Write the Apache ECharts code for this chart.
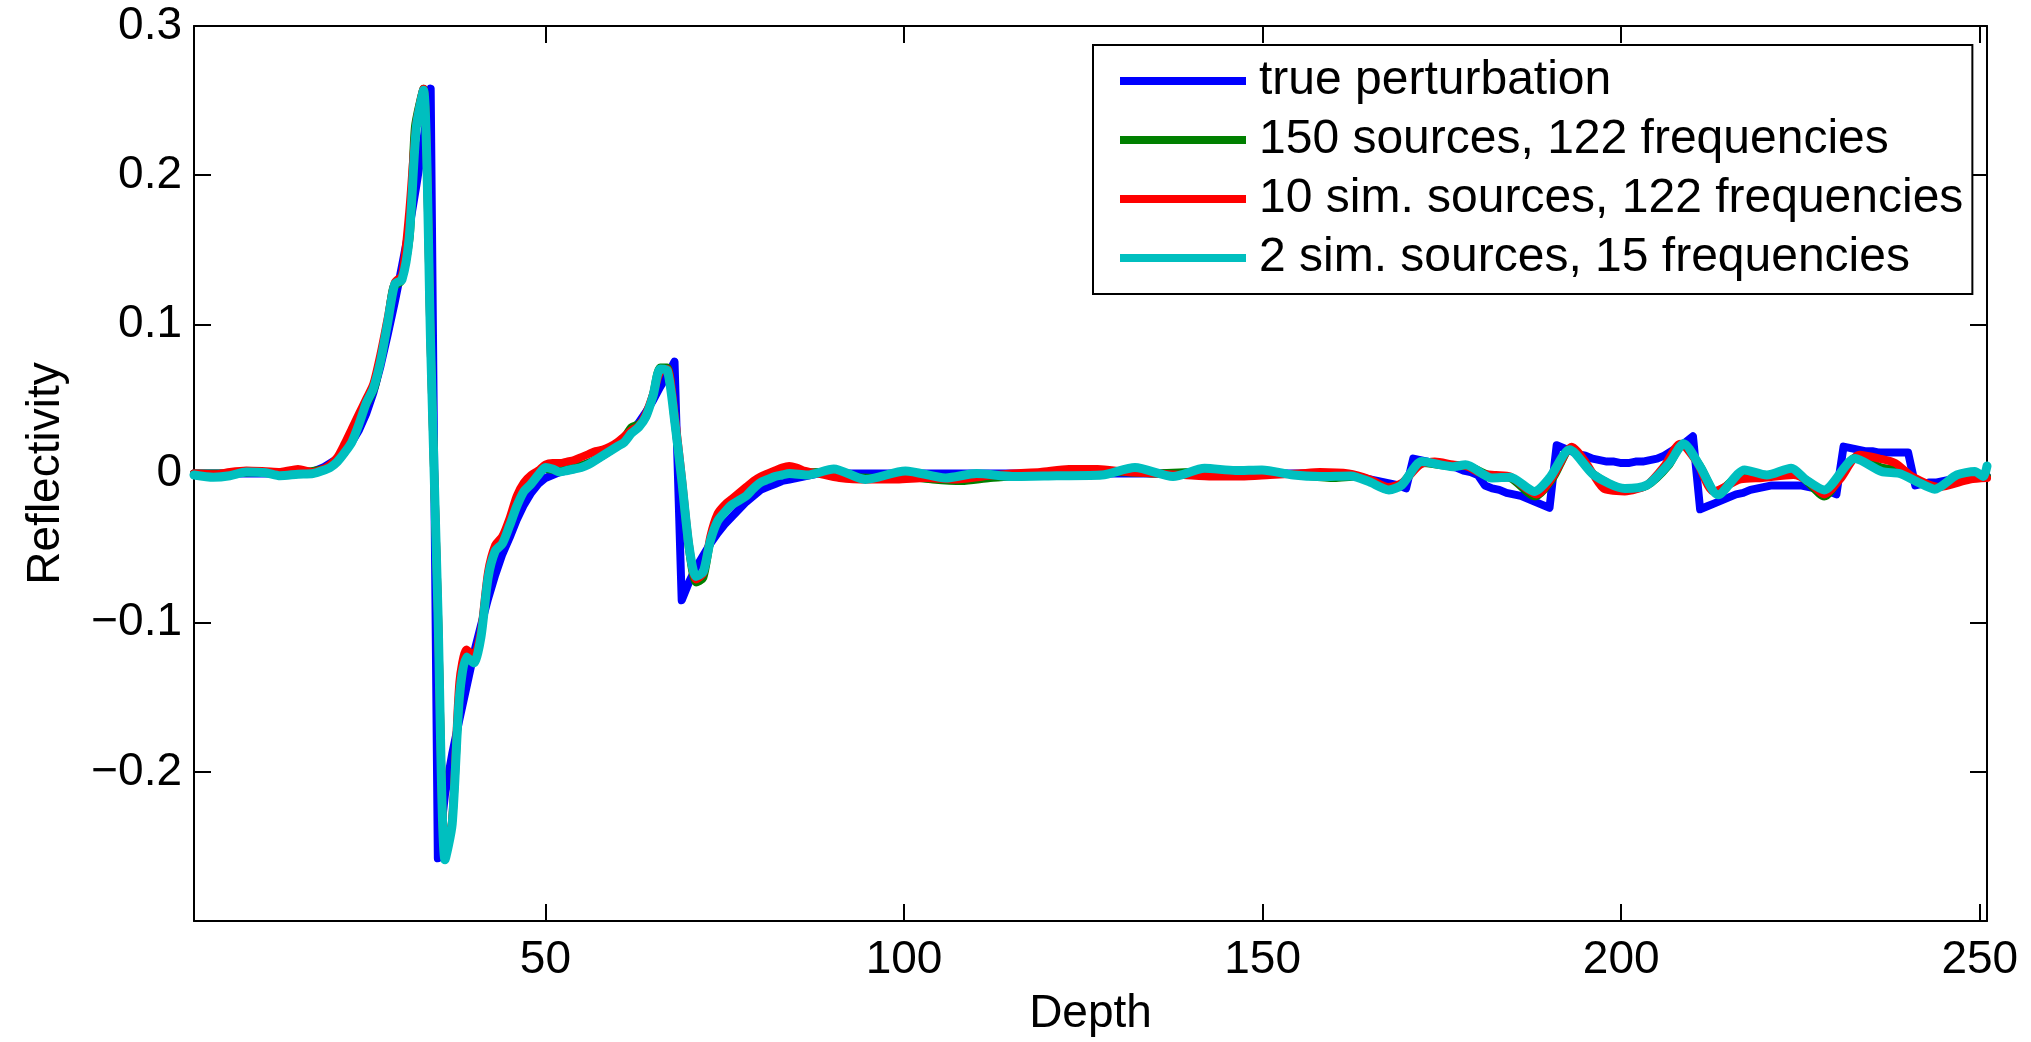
<!DOCTYPE html>
<html>
<head>
<meta charset="utf-8">
<style>
html,body{margin:0;padding:0;background:#fff;}
#chart{width:2031px;height:1042px;}
</style>
<script src="https://cdn.jsdelivr.net/npm/echarts@6/dist/echarts.min.js"></script>
</head>
<body>
<div id="chart"></div>
<script>
// ---- data (depth, reflectivity) ----
const seriesNames = ["true perturbation", "150 sources, 122 frequencies", "10 sim. sources, 122 frequencies", "2 sim. sources, 15 frequencies"];
const xTicks = [50, 100, 150, 200, 250];

const truePts = [[1,0],[17,0],[18,0.002],[19,0.004],[20,0.007],[21,0.010],[22,0.015],[23,0.021],[24,0.029],[25,0.040],[26,0.054],[27,0.072],[28,0.093],[29,0.115],[30,0.139],[31,0.164],[32,0.193],[33,0.224],[34,0.258],[35,-0.258],[36,-0.215],[37,-0.188],[38,-0.165],[39,-0.143],[40,-0.121],[41,-0.102],[42,-0.084],[43,-0.068],[44,-0.054],[45,-0.043],[46,-0.031],[47,-0.021],[48,-0.013],[49,-0.007],[50,-0.003],[51,-0.001],[52,0.001],[53,0.002],[54,0.003],[55,0.005],[56,0.007],[57,0.009],[58,0.012],[59,0.015],[60,0.019],[61,0.023],[62,0.028],[63,0.034],[64,0.041],[65,0.049],[66,0.058],[67,0.066],[68,0.075],[69,-0.085],[70,-0.073],[71,-0.063],[72,-0.055],[73,-0.047],[74,-0.040],[75,-0.034],[76,-0.029],[77,-0.024],[78,-0.019],[79,-0.015],[80,-0.011],[81,-0.009],[82,-0.007],[83,-0.005],[84,-0.004],[85,-0.003],[86,-0.002],[87,-0.001],[88,0],[160,0],[161,-0.0005],[162,-0.001],[163,-0.002],[164,-0.003],[165,-0.004],[166,-0.005],[167,-0.006],[168,-0.007],[169,-0.008],[170,-0.010],[171,0.010],[172,0.009],[173,0.008],[174,0.007],[175,0.006],[176,0.005],[177,0.004],[178,0.002],[179,0.001],[180,-0.001],[181,-0.008],[182,-0.010],[183,-0.011],[184,-0.013],[185,-0.014],[186,-0.015],[187,-0.017],[188,-0.019],[189,-0.021],[190,-0.023],[191,0.019],[192,0.017],[193,0.015],[194,0.013],[195,0.012],[196,0.010],[197,0.009],[198,0.008],[199,0.008],[200,0.007],[201,0.007],[202,0.008],[203,0.008],[204,0.009],[205,0.010],[206,0.012],[207,0.015],[208,0.018],[209,0.021],[210,0.025],[211,-0.024],[212,-0.022],[213,-0.020],[214,-0.018],[215,-0.016],[216,-0.014],[217,-0.013],[218,-0.011],[219,-0.010],[220,-0.009],[221,-0.008],[222,-0.008],[223,-0.008],[224,-0.008],[225,-0.008],[226,-0.009],[227,-0.010],[228,-0.011],[229,-0.012],[230,-0.014],[231,0.018],[232,0.017],[233,0.016],[234,0.015],[235,0.015],[236,0.014],[237,0.014],[238,0.014],[239,0.014],[240,0.014],[241,-0.008],[242,-0.007],[243,-0.006],[244,-0.006],[245,-0.005],[246,-0.004],[247,-0.004],[248,-0.003],[249,-0.003],[250,-0.002],[251,-0.002]];

const src150Pts = [[1,0],[5,0],[10,0.001],[15,0.001],[18,0.002],[20,0.005],[22,0.014],[23.2,0.026],[25,0.046],[26.2,0.058],[27.4,0.085],[28.1,0.104],[28.8,0.125],[29.9,0.129],[31.1,0.16],[31.8,0.232],[33,0.258],[34,0.085],[35,-0.09],[36,-0.258],[37,-0.233],[38,-0.15],[39,-0.12],[40,-0.125],[41,-0.108],[42,-0.07],[43,-0.052],[44,-0.046],[45,-0.034],[46,-0.02],[47,-0.010],[48,-0.005],[49,0.000],[50,0.003],[52,0.002],[54,0.004],[56,0.007],[58,0.012],[60,0.019],[61,0.024],[62,0.031],[63,0.033],[64,0.038],[65,0.053],[66,0.071],[67,0.071],[68,0.036],[69,-0.005],[70,-0.050],[71,-0.073],[72,-0.070],[73,-0.045],[74,-0.030],[75,-0.024],[76,-0.019],[77,-0.015],[78,-0.011],[79,-0.007],[80,-0.004],[81,-0.002],[82,-0.001],[84,0.000],[88,0.001],[92,-0.002],[96,-0.003],[100,-0.002],[104,-0.004],[108,-0.005],[112,-0.003],[116,-0.002],[120,-0.001],[125,0],[130,0.001],[135,0.000],[140,0.001],[145,0.000],[150,0.001],[155,-0.001],[160,-0.003],[163,-0.002],[165,-0.005],[167.6,-0.011],[169.4,-0.007],[172.2,0.007],[176.5,0.005],[178.3,0.005],[182,-0.002],[184.5,-0.003],[188,-0.0155],[190.5,-0.003],[193,0.017],[196,0.000],[200.5,-0.0105],[203.6,-0.008],[206.7,0.006],[208.5,0.020],[211,0.005],[213.3,-0.013],[217,0.000],[220.3,-0.002],[223.7,0.002],[225.8,-0.005],[228.3,-0.0155],[232.8,0.011],[236.3,0.004],[238.8,0.002],[241,-0.004],[243.7,-0.010],[246.8,-0.003],[249.3,-0.001],[251,-0.002]];

const sim10Pts = [[1,0],[4,-0.0005],[6,0.001],[8.3,0.002],[11,0.0015],[13,0.001],[15.5,0.003],[17.6,0.001],[19,0.003],[20,0.006],[21,0.011],[22,0.020],[23,0.030],[24,0.040],[25,0.050],[26,0.060],[27,0.080],[28,0.104],[29,0.128],[30,0.133],[31,0.175],[32,0.235],[33,0.258],[34,0.085],[35,-0.09],[36,-0.257],[37,-0.232],[38,-0.140],[39,-0.118],[40,-0.122],[41,-0.106],[42,-0.066],[43,-0.048],[44,-0.042],[45,-0.030],[46,-0.015],[47,-0.006],[48,-0.001],[49,0.002],[50,0.006],[51,0.007],[52,0.007],[53,0.008],[54,0.009],[55,0.011],[56,0.013],[57,0.015],[58,0.016],[59,0.018],[60,0.021],[61,0.025],[62,0.029],[63,0.032],[64,0.040],[65,0.053],[66,0.068],[67,0.070],[68,0.040],[69,-0.002],[70,-0.047],[71,-0.071],[72,-0.067],[73,-0.042],[74,-0.027],[75,-0.021],[76,-0.017],[77,-0.013],[78,-0.009],[79,-0.005],[80,-0.002],[81,0.000],[82,0.002],[83,0.004],[84,0.005],[85,0.004],[86,0.002],[88,0.000],[91,-0.003],[95,-0.004],[99,-0.004],[103,-0.003],[107,-0.004],[111,-0.002],[115,0.000],[119,0.001],[123,0.003],[127,0.003],[131,0.001],[135,0.000],[139,-0.001],[143,-0.002],[147,-0.002],[151,-0.001],[155,0.000],[158,0.001],[162,0.000],[165,-0.004],[167.5,-0.009],[169.5,-0.006],[172,0.006],[174,0.008],[176.5,0.006],[178.3,0.005],[180.5,0.000],[182.5,-0.001],[184.5,-0.002],[188.2,-0.014],[190.5,-0.002],[193.1,0.018],[195,0.008],[197.5,-0.010],[200.5,-0.012],[203.5,-0.008],[206,0.005],[208.2,0.020],[210.5,0.008],[212.9,-0.012],[216.6,-0.004],[219.7,-0.003],[224,-0.001],[226,-0.005],[228.3,-0.014],[230.5,-0.004],[233.2,0.0125],[236,0.010],[238.2,0.007],[240.6,-0.002],[244.3,-0.009],[248.6,-0.004],[251,-0.003]];

const sim2Pts = [[1,-0.001],[3.7,-0.0025],[6,-0.0015],[8.3,0.001],[11,0.0005],[13,-0.0015],[15.5,-0.0005],[17.6,0],[19,0.002],[20,0.004],[21,0.008],[22,0.014],[23,0.021],[24,0.033],[25,0.047],[26,0.057],[27,0.075],[28,0.101],[29,0.127],[30,0.130],[31,0.158],[32,0.232],[33,0.257],[34,0.085],[35,-0.09],[36,-0.259],[37,-0.235],[38,-0.150],[39,-0.123],[40,-0.127],[41,-0.110],[42,-0.070],[43,-0.052],[44,-0.047],[45,-0.035],[46,-0.022],[47,-0.012],[48,-0.007],[49,-0.001],[50,0.004],[51,0.003],[52,0.001],[53,0.002],[54,0.003],[55,0.004],[56,0.006],[57,0.009],[58,0.012],[59,0.015],[60,0.018],[61,0.021],[62,0.027],[63,0.031],[64,0.038],[65,0.052],[66,0.070],[67,0.069],[68,0.036],[69,-0.004],[70,-0.048],[71,-0.069],[72,-0.066],[73,-0.045],[74,-0.032],[75,-0.026],[76,-0.021],[77,-0.018],[78,-0.015],[79,-0.010],[80,-0.006],[81,-0.004],[82,-0.002],[83,-0.001],[84,0],[86.5,-0.001],[90.2,0.003],[94.6,-0.004],[100.2,0.0017],[105.8,-0.003],[110.1,0],[115.1,-0.002],[121.3,-0.0015],[127.6,-0.001],[132.2,0.004],[137.5,-0.002],[141.9,0.0035],[146.2,0.002],[149.9,0.0024],[154.3,-0.001],[158,-0.002],[162.3,-0.0016],[164.8,-0.0054],[167.6,-0.011],[169.4,-0.0077],[172.2,0.008],[176.5,0.0046],[178.3,0.0058],[182,-0.003],[184.5,-0.0025],[187.9,-0.012],[190,-0.003],[192.8,0.016],[196.2,-0.001],[200.5,-0.010],[203.6,-0.0077],[206.7,0.0069],[208.7,0.020],[211,0.0046],[213.5,-0.0143],[217.2,0.0024],[220.3,-0.001],[223.7,0.0035],[225.8,-0.0043],[228.3,-0.011],[232.6,0.010],[236.3,0.0013],[238.8,0],[241.2,-0.0054],[243.7,-0.0105],[246.8,-0.001],[249.3,0.0013],[250.5,-0.002],[251,0.005]];

// ---- chart ----
const FONT = '"Liberation Sans", Arial, Helvetica, sans-serif';
const chart = echarts.init(document.getElementById('chart'), null, {renderer: 'canvas'});

function yFmt(v) {
  const r = Math.round(v * 10) / 10;
  if (Math.abs(r + 0.3) < 1e-9) return '';
  if (r === 0) return '0';
  return (r < 0 ? '\u2212' : '') + Math.abs(r).toFixed(1);
}

const axisLineStyle = {show: true, onZero: false, lineStyle: {color: '#000', width: 2}};
const tickStyle = {show: true, inside: true, length: 17, lineStyle: {color: '#000', width: 2}};

const colors = ['#0000ff', '#008000', '#ff0000', '#00bfbf'];
const widths = [8, 8, 8, 9];
const dataSets = [truePts, src150Pts, sim10Pts, sim2Pts];

chart.setOption({
  animation: false,
  backgroundColor: '#fff',
  grid: {left: 194, top: 26, width: 1793, height: 896, containLabel: false},
  legend: {
    show: true,
    orient: 'vertical',
    left: 1093,
    top: 45,
    padding: [12, 9, 12, 27],
    borderColor: '#000',
    borderWidth: 2,
    backgroundColor: '#fff',
    icon: 'rect',
    itemWidth: 126,
    itemHeight: 8,
    itemGap: 11,
    textStyle: {fontFamily: FONT, fontSize: 48, color: '#000', lineHeight: 48, padding: [0, 0, 0, 8]},
    data: seriesNames
  },
  xAxis: [{
    type: 'value', min: 1, max: 251, position: 'bottom',
    name: 'Depth', nameLocation: 'middle', nameGap: 70,
    nameTextStyle: {fontFamily: FONT, fontSize: 46, color: '#000'},
    axisLine: axisLineStyle,
    axisTick: Object.assign({customValues: xTicks}, tickStyle),
    axisLabel: {customValues: xTicks, fontFamily: FONT, fontSize: 46, color: '#000', margin: 16},
    splitLine: {show: false}
  }, {
    type: 'value', min: 1, max: 251, position: 'top',
    axisLine: axisLineStyle,
    axisTick: Object.assign({customValues: xTicks}, tickStyle),
    axisLabel: {show: false},
    splitLine: {show: false}
  }],
  yAxis: [{
    type: 'value', min: -0.3, max: 0.3, interval: 0.1, position: 'left',
    name: 'Reflectivity', nameLocation: 'middle', nameGap: 125,
    nameTextStyle: {fontFamily: FONT, fontSize: 46, color: '#000'},
    axisLine: axisLineStyle,
    axisTick: tickStyle,
    axisLabel: {formatter: yFmt, fontFamily: FONT, fontSize: 46, color: '#000', margin: 12},
    splitLine: {show: false}
  }, {
    type: 'value', min: -0.3, max: 0.3, interval: 0.1, position: 'right',
    axisLine: axisLineStyle,
    axisTick: tickStyle,
    axisLabel: {show: false},
    splitLine: {show: false}
  }],
  series: dataSets.map((d, i) => ({
    name: seriesNames[i],
    type: 'line',
    xAxisIndex: 0,
    yAxisIndex: 0,
    data: d,
    showSymbol: false,
    symbol: 'none',
    smooth: i === 0 ? false : 0.25,
    color: colors[i],
    lineStyle: {color: colors[i], width: widths[i], join: 'round', cap: 'round'},
    z: 2 + i
  }))
});
</script>
</body>
</html>
